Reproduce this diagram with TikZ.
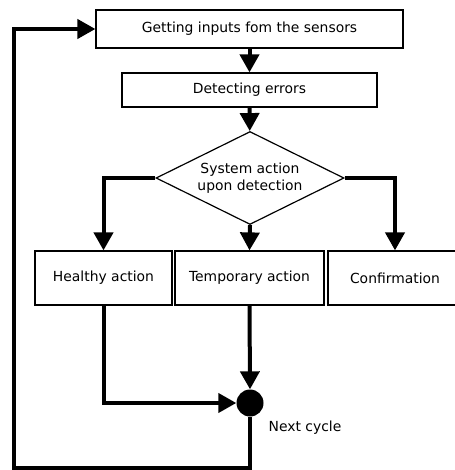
\documentclass[tikz,border=0pt]{standalone}
\usepackage{fontspec}
\setmainfont{DejaVu Sans}
\usetikzlibrary{arrows.meta,shapes.geometric}

\tikzset{
  stepbox/.style={draw,line width=1.2pt,inner sep=0pt,font=\fontsize{13.9}{17}\selectfont},
  flow/.style={line width=4pt,-{Triangle[length=18pt,width=19pt]}},
  plainflow/.style={line width=4pt}
}

\begin{document}
\begin{tikzpicture}[x=1pt,y=-1pt]
\useasboundingbox (0,0) rectangle (454,470);

\node[stepbox,minimum width=307pt,minimum height=38pt] (inputs) at (249.5,29) {Getting inputs fom the sensors};
\node[stepbox,minimum width=255pt,minimum height=34pt] (errors) at (249.5,90) {Detecting errors};
\node[stepbox,diamond,shape aspect=2,minimum width=188pt,minimum height=93pt,align=center] (detect) at (250,178) {System action\\upon detection};

\node[stepbox,minimum width=137pt,minimum height=54pt] (healthy) at (103.5,278) {Healthy action};
\node[stepbox,minimum width=149pt,minimum height=54pt] (temporary) at (249.5,278) {Temporary action};
\node[stepbox,minimum width=134pt,minimum height=54pt] (confirm) at (395,278) {Confirmation};

\node[circle,fill=black,inner sep=0pt,minimum size=27pt] (next) at (250,403) {};
\node[font=\fontsize{13.9}{17}\selectfont] (nextlabel) at (305,428) {Next cycle};
\coordinate (corner) at (14,468);

\draw[flow] (inputs) -- (errors);
\draw[flow] (errors) -- (detect);
\draw[flow] (detect.west) -| (healthy.north);
\draw[flow] (detect.south) -- (temporary.north);
\draw[flow] (detect.east) -| (confirm.north);

\draw[flow] (healthy.south) |- (next.west);
\draw[flow] (temporary.south) -- (next.north);
\draw[flow] (next.south) |- (corner) |- (inputs.west);
\end{tikzpicture}
\end{document}
